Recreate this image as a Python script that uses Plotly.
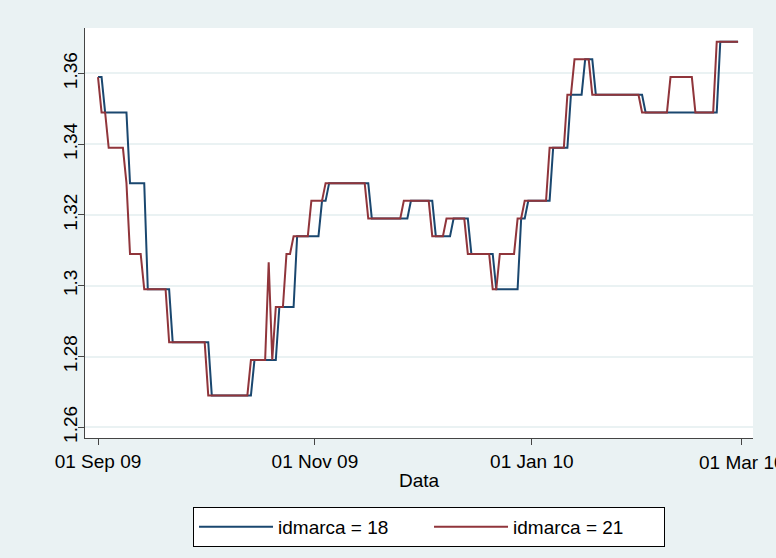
import plotly.graph_objects as go
import pandas as pd

# ---- data (day offsets from 01 Sep 2009, price values) ----
start_date = "2009-09-01"
days_18 = [0, 1, 2, 8, 9, 13, 14, 20, 21, 31, 32, 43, 44, 50, 51, 55, 56, 62, 63, 64,
           65, 76, 77, 87, 88, 94, 95, 99, 100, 104, 105, 111, 112, 118, 119, 120, 121, 127, 128, 132,
           133, 136, 137, 139, 140, 153, 154, 174, 175, 180]
vals_18 = [1.359, 1.359, 1.349, 1.349, 1.329, 1.329, 1.299, 1.299, 1.284, 1.284,
           1.269, 1.269, 1.279, 1.279, 1.294, 1.294, 1.314, 1.314, 1.324, 1.324,
           1.329, 1.329, 1.319, 1.319, 1.324, 1.324, 1.314, 1.314, 1.319, 1.319,
           1.309, 1.309, 1.299, 1.299, 1.319, 1.319, 1.324, 1.324, 1.339, 1.339,
           1.354, 1.354, 1.364, 1.364, 1.354, 1.354, 1.349, 1.349, 1.369, 1.369]
days_21 = [0, 1, 2, 3, 7, 8, 9, 12, 13, 19, 20, 30, 31, 42, 43, 47, 48, 49, 50, 52,
           53, 54, 55, 59, 60, 63, 64, 75, 76, 85, 86, 93, 94, 97, 98, 103, 104, 110, 111, 112,
           113, 117, 118, 119, 120, 126, 127, 131, 132, 133, 134, 138, 139, 152, 153, 160, 161, 167, 168, 173,
           174, 180]
vals_21 = [1.359, 1.349, 1.349, 1.339, 1.339, 1.329, 1.309, 1.309, 1.299, 1.299,
           1.284, 1.284, 1.269, 1.269, 1.279, 1.279, 1.3066, 1.279, 1.294, 1.294,
           1.309, 1.309, 1.314, 1.314, 1.324, 1.324, 1.329, 1.329, 1.319, 1.319,
           1.324, 1.324, 1.314, 1.314, 1.319, 1.319, 1.309, 1.309, 1.299, 1.299,
           1.309, 1.309, 1.319, 1.319, 1.324, 1.324, 1.339, 1.339, 1.354, 1.354,
           1.364, 1.364, 1.354, 1.354, 1.349, 1.349, 1.359, 1.359, 1.349, 1.349,
           1.369, 1.369]
series_names = ["idmarca = 18", "idmarca = 21"]
y_tick_vals = [1.26, 1.28, 1.30, 1.32, 1.34, 1.36]
y_tick_text = ["1.26", "1.28", "1.3", "1.32", "1.34", "1.36"]
x_tick_dates = ["2009-09-01", "2009-11-01", "2010-01-01", "2010-03-01"]
x_tick_text = ["01 Sep 09", "01 Nov 09", "01 Jan 10", "01 Mar 10"]

base = pd.Timestamp(start_date)
x18 = [base + pd.Timedelta(days=d) for d in days_18]
x21 = [base + pd.Timedelta(days=d) for d in days_21]

FONT = "Liberation Sans, Arial, sans-serif"
BG = "#EAF2F3"
FS = 19

fig = go.Figure()
fig.add_trace(go.Scatter(x=x18, y=vals_18, mode="lines", name=series_names[0],
                         line=dict(color="#1A476F", width=2)))
fig.add_trace(go.Scatter(x=x21, y=vals_21, mode="lines", name=series_names[1],
                         line=dict(color="#90353B", width=2)))

x_lo = base + pd.Timedelta(hours=-3.66 * 24)
x_hi = base + pd.Timedelta(hours=184.2 * 24)

# first three date labels as axis tick labels; the last one (which runs off the
# right edge of the graph in the original) as an annotation so it is not dropped
fig.update_layout(
    width=776, height=558,
    margin=dict(l=85, r=23, t=28, b=119),
    paper_bgcolor=BG, plot_bgcolor="white",
    font=dict(family=FONT, size=FS, color="black"),
    showlegend=True,
    legend=dict(orientation="h", x=0.515, xanchor="center", y=-0.165, yanchor="top",
                bgcolor="white", bordercolor="black", borderwidth=1,
                font=dict(size=FS), itemwidth=74, entrywidth=146, entrywidthmode="pixels",
                tracegroupgap=0),
    xaxis=dict(range=[x_lo, x_hi], tickvals=x_tick_dates,
               ticktext=x_tick_text[:3] + [""],
               showgrid=False, zeroline=False, showline=True, linecolor="#444", linewidth=1,
               ticks="outside", ticklen=6, tickcolor="#444",
               title=dict(text="Data", standoff=2, font=dict(size=FS))),
    yaxis=dict(range=[1.25696, 1.37286], tickvals=y_tick_vals, ticktext=y_tick_text,
               showgrid=True, gridcolor=BG, gridwidth=2, zeroline=False,
               showline=True, linecolor="#444", linewidth=1,
               ticks="outside", ticklen=6, tickcolor="#444", tickangle=-90,
               ticklabelstandoff=-7),
)
fig.add_annotation(x=x_tick_dates[3], xref="x", y=0, yref="paper", yshift=-12,
                   text=x_tick_text[3], showarrow=False, xanchor="center", yanchor="top",
                   font=dict(family=FONT, size=FS, color="black"))

fig.write_html("out.html")
